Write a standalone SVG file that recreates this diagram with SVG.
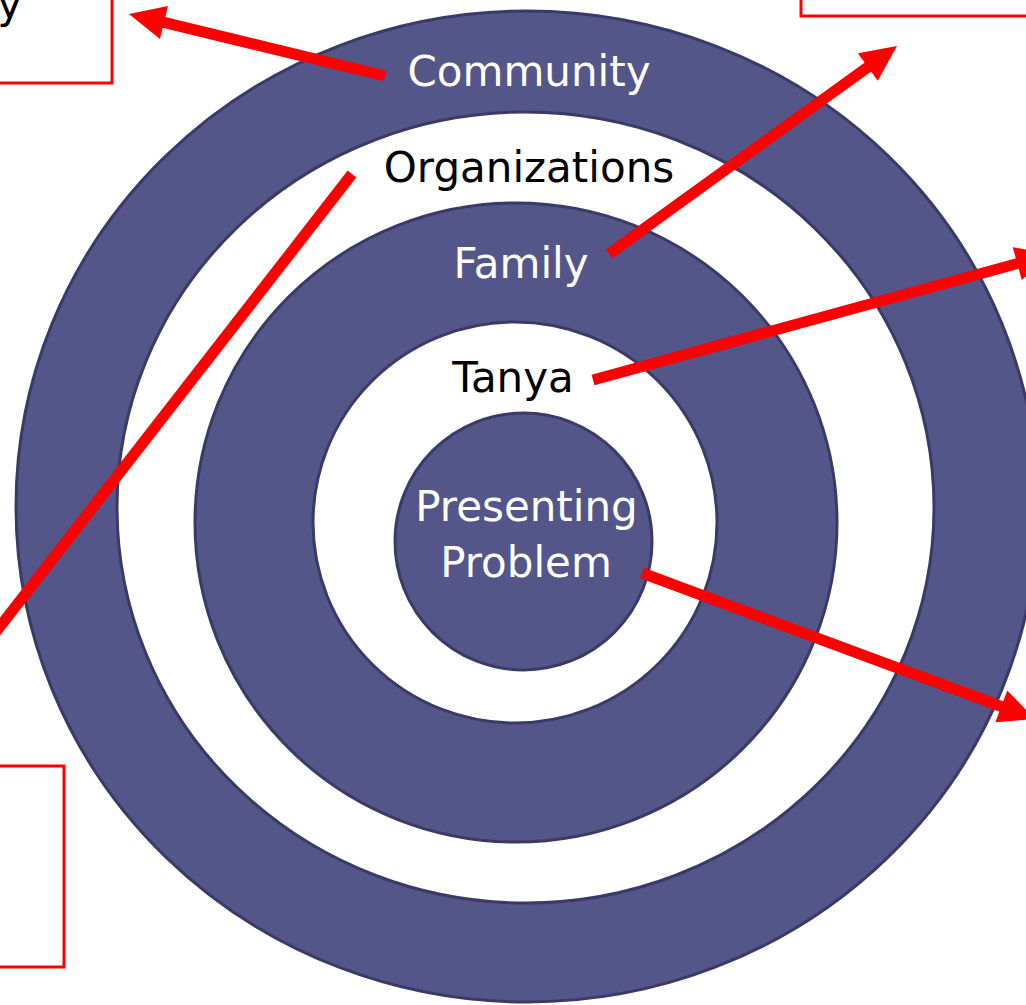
<svg xmlns="http://www.w3.org/2000/svg" width="1026" height="1005" viewBox="0 0 1026 1005">
  <style>
    .ring { stroke: #3a3a66; stroke-width: 3; }
    .p { fill: #545589; }
    .w { fill: #ffffff; }
    .lbl { font-family: "DejaVu Sans", Verdana, sans-serif; font-size: 42px; text-anchor: middle; }
    .lw { fill: #ffffff; }
    .lb { fill: #000000; }
    .box { fill: #ffffff; stroke: #ff0000; stroke-width: 3; }
    .arrow { stroke: #ff0000; stroke-width: 11; fill: none; marker-end: url(#head); }
  </style>
  <defs>
    <marker id="head" markerUnits="userSpaceOnUse" markerWidth="36" markerHeight="34" refX="16" refY="17" orient="auto" overflow="visible">
      <path d="M0,0 L36,17 L0,34 Z" fill="#ff0000"/>
    </marker>
  </defs>

  <g id="box-top-left">
    <rect class="box" x="-10" y="-10" width="122" height="93"/>
    <text class="lbl lb" x="22" y="18" style="text-anchor:end">ty</text>
  </g>
  <g id="box-top-right">
    <rect class="box" x="801" y="-10" width="240" height="26"/>
  </g>
  <g id="box-bottom-left">
    <rect class="box" x="-10" y="766" width="74" height="201"/>
  </g>

  <g id="community">
    <ellipse class="ring p" cx="527" cy="506.5" rx="511" ry="495.5"/>
    <text class="lbl lw" x="529" y="86">Community</text>
  </g>
  <g id="organizations">
    <ellipse class="ring w" cx="525.5" cy="507.5" rx="408.5" ry="395.5"/>
    <text class="lbl lb" x="529" y="182">Organizations</text>
  </g>
  <g id="family">
    <ellipse class="ring p" cx="516" cy="522.5" rx="321" ry="319.5"/>
    <text class="lbl lw" x="521" y="278">Family</text>
  </g>
  <g id="tanya">
    <ellipse class="ring w" cx="515" cy="522.5" rx="202" ry="200.5"/>
    <text class="lbl lb" x="513" y="392">Tanya</text>
  </g>
  <g id="presenting-problem">
    <ellipse class="ring p" cx="523.5" cy="541.5" rx="128.5" ry="128.5"/>
    <text class="lbl lw" x="526.5" y="521">Presenting</text>
    <text class="lbl lw" x="526" y="577">Problem</text>
  </g>

  <g id="connectors">
    <line class="arrow" x1="385" y1="76" x2="148.4" y2="18.7"/>
    <line class="arrow" x1="609" y1="254" x2="880.8" y2="57.7"/>
    <line class="arrow" x1="593" y1="380" x2="1032.7" y2="259.3"/>
    <line class="arrow" x1="642" y1="573" x2="1016.3" y2="712"/>
    <line class="arrow" x1="352" y1="174" x2="-40" y2="678"/>
  </g>
</svg>
